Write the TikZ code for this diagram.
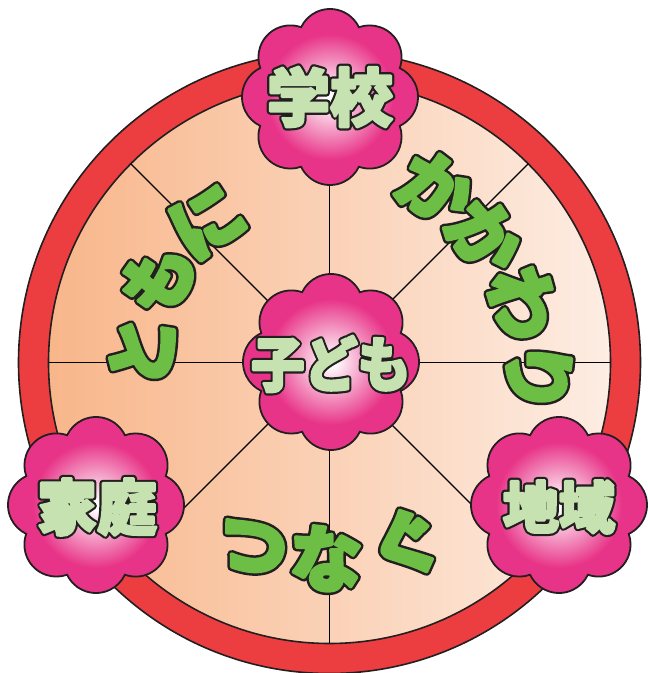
\documentclass[tikz,border=0pt]{standalone}
\usepackage{fontspec}
\newfontfamily\jp{Noto Sans CJK JP}
\usetikzlibrary{calc}
\definecolor{ringred}{RGB}{236,62,64}
\definecolor{diskL}{RGB}{248,182,138}
\definecolor{diskR}{RGB}{253,237,227}
\definecolor{fpink}{RGB}{232,52,136}
\definecolor{lgreen}{RGB}{197,226,176}
\definecolor{dgreen}{RGB}{108,190,68}
\definecolor{olc}{RGB}{35,31,32}
\pgfdeclareradialshading{flowershade}{\pgfpoint{0bp}{0bp}}{color(0bp)=(white); color(1bp)=(white); color(17bp)=(fpink); color(25bp)=(fpink)}
% #1 outline stroke width, #2 fattening stroke width, #3 fill rgb, #4 text
\newcommand\strk[4]{\special{pdf:literal direct 0.137 0.122 0.125 RG #1 w 1 j 2 Tr}\rlap{#4}\special{pdf:literal direct #3 RG #2 w 1 j 2 Tr}#4\special{pdf:literal direct 0 Tr}}
\newcommand\gstr[1]{\strk{8.5}{3.5}{0.424 0.745 0.267}{#1}}
\newcommand\fstr[1]{\strk{7}{2.6}{0.773 0.886 0.690}{#1}}
\tikzset{
  flower/.style={draw=olc, line width=1.8pt, shading=flowershade},
  ftext/.style={font=\jp\bfseries\fontsize{60}{60}\selectfont, text=lgreen, inner sep=0pt},
  gtext/.style={font=\jp\bfseries\fontsize{72}{72}\selectfont, text=dgreen, inner sep=0pt},
  spoke/.style={draw=black, line width=1.3pt},
}
\newcommand\flowerat[1]{%
  \path[flower] ($(#1)+(-22.5:75.5pt)$)
    \foreach \t in {0,45,...,315}{ arc[start angle=\t-64.55, end angle=\t+64.55, radius=32pt] } -- cycle;
}
\begin{document}
\begin{tikzpicture}[x=1pt,y=1pt]
\useasboundingbox (0,0) rectangle (648,673);
\coordinate (c) at (329.5,310.5);
% ring and disk
\fill[ringred, draw=olc, line width=1.6pt] (c) circle[radius=311pt];
\shade[left color=diskL, right color=diskR] (c) circle[radius=281pt];
\draw[olc, line width=1.6pt] (c) circle[radius=281pt];
% spokes
\foreach \a in {0,45,...,315}{
  \coordinate (e\a) at ($(c)+(\a:281pt)$);
  \draw[spoke] (c) -- (e\a);
}
% green texts along arcs
\foreach \ch/\ang/\r/\rot [count=\i] in {と/176.5/188/82, も/153.8/191/58, に/130.9/187/33}{
  \node[gtext, rotate=\rot] (tomo\i) at ($(c)+(\ang:\r pt)$) {\gstr{\ch}};
}
\foreach \ch/\ang/\r [count=\i] in {か/58.6/204, か/39/200, わ/17/203, り/-4/209}{
  \node[gtext, rotate=\ang-90] (kaka\i) at ($(c)+(\ang:\r pt)$) {\gstr{\ch}};
}
\foreach \ch/\ang/\r [count=\i] in {つ/-113/201, な/-91/196, ぐ/-67/197}{
  \node[gtext, rotate=\ang+90] (tsuna\i) at ($(c)+(\ang:\r pt)$) {\gstr{\ch}};
}
% flowers
\coordinate (fs) at (330,576);
\coordinate (fc) at (331,311);
\coordinate (fh) at (96,168);
\coordinate (fr) at (559,168);
\flowerat{fs}
\flowerat{fc}
\flowerat{fh}
\flowerat{fr}
\node[ftext, font=\jp\bfseries\fontsize{63}{63}\selectfont] (school) at ($(fs)+(0,0)$) {\fstr{学校}};
\node[ftext, xscale=0.9, font=\jp\bfseries\fontsize{59}{59}\selectfont] (child) at ($(fc)+(0,-2)$) {\fstr{子ども}};
\node[ftext] (home) at ($(fh)+(1,-2)$) {\fstr{家庭}};
\node[ftext, font=\jp\bfseries\fontsize{56}{56}\selectfont] (area) at ($(fr)+(0,-2)$) {\fstr{地域}};
\end{tikzpicture}
\end{document}
